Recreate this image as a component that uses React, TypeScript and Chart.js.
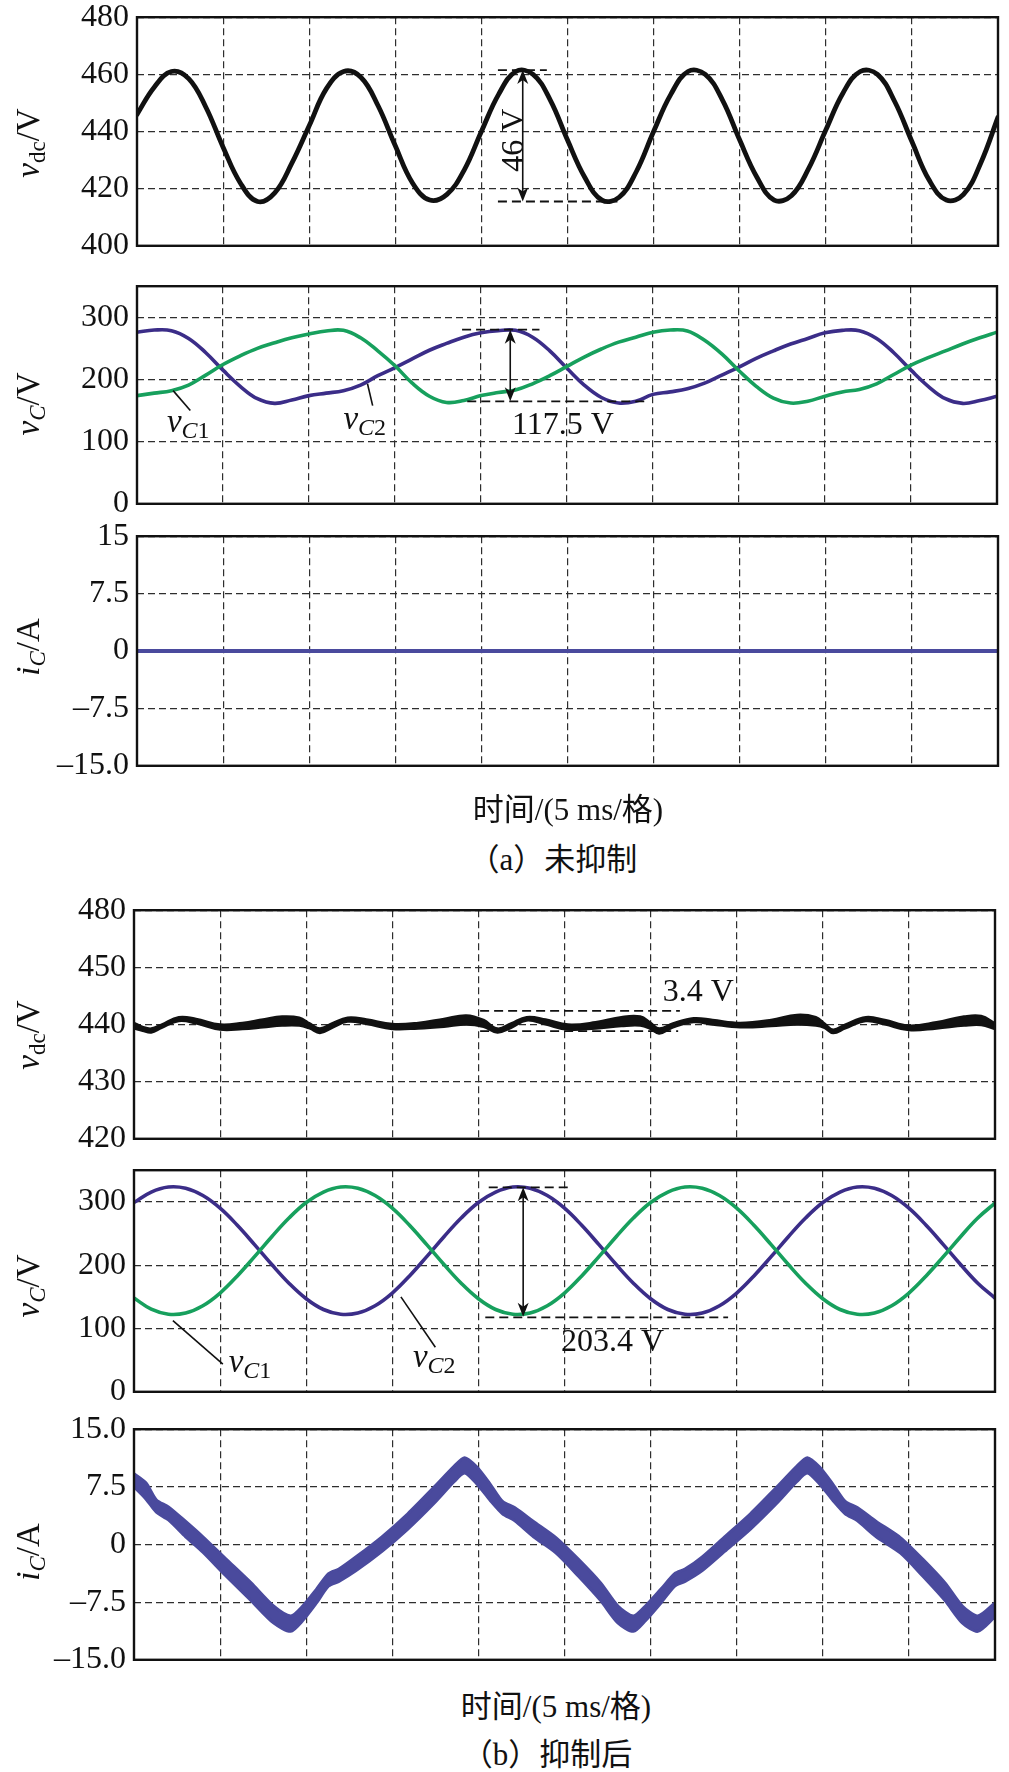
import React, { useEffect, useRef } from "react";
import { Chart, registerables } from "chart.js";

Chart.register(...registerables);

const W = 1009;
const H = 1772;
const PAD = 26;
const SERIF = '"Liberation Serif", "DejaVu Serif", "Times New Roman", Times, serif';
const CAPTION_FONT = '"Liberation Serif", "DejaVu Serif", "Noto Sans CJK SC", serif';

const PURPLE = "#3b2d88";
const GREEN = "#17a05d";
const BAND = "#4a4a9d";
const GRID = "#2e2e2e";

// ---------- time axis (ms), 10 divisions of 5 ms ----------
const xTicks = [0, 5, 10, 15, 20, 25, 30, 35, 40, 45, 50];
const timeMs = [0, 1, 2, 3, 4, 5, 6, 7, 8, 9, 10, 11, 12, 13, 14, 15, 16, 17, 18, 19, 20, 21, 22, 23, 24, 25, 26, 27, 28, 29, 30, 31, 32, 33, 34, 35, 36, 37, 38, 39, 40, 41, 42, 43, 44, 45, 46, 47, 48, 49, 50];

// ---------- (a) without suppression ----------
const vdcA = [446, 455.5, 461, 458.5, 448.5, 434.5, 422, 415.5, 418.5, 429, 442, 455, 461, 459, 449, 435, 422, 416, 418, 426.5, 440, 453, 461, 460, 451, 437, 424, 416, 417, 426, 440, 453, 461, 460, 451, 437, 424, 416, 417.5, 427, 440.5, 453.5, 461, 460, 450.5, 436.5, 423, 416, 418, 429, 445];
const vC1A = [174, 178, 182, 191, 207, 224, 238, 250, 259, 267, 273, 278, 279, 267, 246, 222, 194, 173, 163, 166, 174, 179, 183, 193, 206, 221, 236, 249, 260, 268, 276, 279.5, 278, 263, 241, 214, 189, 170, 162, 165, 173, 180, 184, 193, 208, 223, 235, 246, 257, 267, 276];
const vC2A = [276, 279.5, 278.5, 266, 243, 215, 189, 169, 161.5, 167, 174, 178, 182, 191, 206, 219, 233, 247, 258, 268, 275, 278.5, 279, 268, 246, 218, 191, 171, 162, 165, 176, 180, 185, 194, 207, 220, 234, 246, 257, 266, 275, 279, 278.5, 266, 243, 215, 189, 169, 161.5, 166, 173];
const iCA = [0, 0, 0, 0, 0, 0, 0, 0, 0, 0, 0, 0, 0, 0, 0, 0, 0, 0, 0, 0, 0, 0, 0, 0, 0, 0, 0, 0, 0, 0, 0, 0, 0, 0, 0, 0, 0, 0, 0, 0, 0, 0, 0, 0, 0, 0, 0, 0, 0, 0, 0];

// ---------- (b) with suppression ----------
const vdcBTime = [0, 0.5, 1.0, 1.6, 2.6, 3.6, 5.0, 6.3, 7.5, 8.6, 9.6, 10.2, 10.8, 11.5, 12.4, 13.5, 15.0, 16.5, 18.0, 19.3, 20.3, 21.1, 21.9, 22.8, 23.9, 25.2, 26.8, 28.3, 29.4, 30.0, 30.5, 31.3, 32.5, 33.6, 35.2, 37.0, 38.5, 39.6, 40.1, 40.6, 41.3, 42.5, 43.6, 45.0, 46.6, 48.2, 49.2, 50.0];
const vdcBUpper = [440.3, 439.6, 439.3, 440.0, 441.3, 441.0, 440.0, 440.3, 440.9, 441.4, 441.2, 440.2, 439.3, 440.2, 441.2, 440.9, 440.1, 440.3, 441.0, 441.6, 440.8, 439.3, 440.2, 441.3, 440.9, 440.0, 440.4, 441.3, 441.4, 440.3, 439.3, 440.2, 441.1, 440.8, 440.3, 440.8, 441.7, 441.3, 440.2, 439.1, 440.0, 441.3, 440.8, 439.8, 440.4, 441.4, 441.5, 440.2];
const vdcBLower = [439.3, 438.9, 438.6, 439.4, 440.6, 440.2, 439.1, 439.2, 439.5, 439.8, 439.8, 439.3, 438.5, 439.4, 440.5, 440.1, 439.2, 439.3, 439.6, 440.0, 439.6, 438.6, 439.4, 440.7, 440.0, 439.1, 439.3, 439.7, 439.8, 439.2, 438.4, 439.5, 440.4, 440.0, 439.5, 439.7, 440.0, 439.8, 439.4, 438.5, 439.3, 440.6, 440.0, 439.0, 439.3, 439.8, 439.9, 439.2];
const vC1B = [148, 130.5, 122.5, 124.5, 136, 156, 183, 213.5, 245, 274.5, 299, 315.5, 323.5, 321.5, 310, 290, 263, 232.5, 201, 171.5, 147, 130, 122.5, 124.5, 136, 156, 183, 213.5, 245, 274.5, 299, 315.5, 323.5, 321.5, 310, 290, 263, 232.5, 201, 171.5, 147, 130, 122.5, 124.5, 136, 156, 183, 213.5, 245, 274.5, 298];
const vC2B = [299, 315.5, 323.5, 321.5, 310, 290, 263, 232.5, 201, 171.5, 147, 130, 122.5, 124.5, 136, 156, 183, 213.5, 245, 274.5, 299, 315.5, 323.5, 321.5, 310, 290, 263, 232.5, 201, 171.5, 147, 130, 122.5, 124.5, 136, 156, 183, 213.5, 245, 274.5, 299, 315.5, 323.5, 321.5, 310, 290, 263, 232.5, 201, 171.5, 148];
const iCBTime = [0, 0.7, 1.3, 2.0, 3.0, 4.0, 5.3, 6.8, 8.1, 9.1, 9.8, 10.6, 11.3, 11.9, 12.9, 14.4, 15.9, 17.4, 18.6, 19.2, 19.9, 20.7, 21.4, 22.1, 23.2, 24.5, 25.8, 27.1, 28.1, 29.0, 29.7, 30.6, 31.4, 32.0, 33.0, 34.3, 35.8, 37.3, 38.5, 39.1, 39.8, 40.6, 41.3, 42.0, 43.1, 44.5, 45.8, 47.1, 48.1, 49.0, 50.0];
const iCBUpper = [9.2, 8.0, 5.8, 4.9, 3.0, 1.0, -1.8, -5.0, -8.0, -9.3, -8.0, -5.8, -3.8, -3.2, -1.6, 1.0, 4.0, 7.4, 10.2, 11.3, 10.1, 7.8, 5.6, 4.8, 3.0, 0.9, -1.9, -5.0, -8.0, -9.3, -8.0, -5.8, -3.8, -3.2, -1.6, 1.0, 4.0, 7.4, 10.2, 11.3, 10.1, 7.8, 5.6, 4.8, 3.0, 0.9, -1.9, -5.0, -8.0, -9.3, -7.6];
const iCBLower = [7.5, 5.9, 4.2, 3.2, 1.0, -1.0, -4.0, -7.3, -10.2, -11.3, -9.9, -7.6, -5.4, -4.8, -3.4, -0.9, 2.0, 5.3, 8.2, 9.3, 7.9, 5.7, 4.0, 3.1, 1.0, -1.1, -4.1, -7.3, -10.2, -11.3, -9.9, -7.6, -5.4, -4.8, -3.4, -0.9, 2.0, 5.3, 8.2, 9.3, 7.9, 5.7, 4.0, 3.1, 1.0, -1.1, -4.1, -7.3, -10.2, -11.3, -9.4];

// ---------- y ticks ----------
const vdcATicks = [400, 420, 440, 460, 480];
const vdcALabels = ["400", "420", "440", "460", "480"];
const vCTicks = [0, 100, 200, 300];
const vCLabels = ["0", "100", "200", "300"];
const iCTicks = [-15, -7.5, 0, 7.5, 15];
const iCALabels = ["\u201315.0", "\u20137.5", "0", "7.5", "15"];
const vdcBTicks = [420, 430, 440, 450, 460];
const vdcBLabels = ["420", "430", "440", "450", "480"];
const iCBLabels = ["\u201315.0", "\u20137.5", "0", "7.5", "15.0"];

const pts = (xs: number[], ys: number[]) => xs.map((x, i) => ({ x, y: ys[i] }));

type Part = { t: string; it?: boolean; s: number; dy?: number };

function drawRich(ctx: CanvasRenderingContext2D, x: number, y: number, parts: Part[], align: "left" | "center" = "left") {
  const widths = parts.map((p) => {
    ctx.font = `${p.it ? "italic " : ""}${p.s}px ${SERIF}`;
    return ctx.measureText(p.t).width;
  });
  const total = widths.reduce((a, b) => a + b, 0);
  let cx = align === "center" ? x - total / 2 : x;
  ctx.textAlign = "left";
  ctx.textBaseline = "alphabetic";
  ctx.fillStyle = "#111";
  parts.forEach((p, i) => {
    ctx.font = `${p.it ? "italic " : ""}${p.s}px ${SERIF}`;
    ctx.fillText(p.t, cx, y + (p.dy || 0));
    cx += widths[i];
  });
}

function dashH(ctx: CanvasRenderingContext2D, x1: number, x2: number, y: number) {
  ctx.save();
  ctx.strokeStyle = "#111";
  ctx.lineWidth = 1.8;
  ctx.setLineDash([9, 5]);
  ctx.beginPath();
  ctx.moveTo(x1, y);
  ctx.lineTo(x2, y);
  ctx.stroke();
  ctx.restore();
}

function arrowV(ctx: CanvasRenderingContext2D, x: number, yTop: number, yBot: number) {
  ctx.save();
  ctx.strokeStyle = "#111";
  ctx.fillStyle = "#111";
  ctx.lineWidth = 1.6;
  ctx.setLineDash([]);
  ctx.beginPath();
  ctx.moveTo(x, yTop + 8);
  ctx.lineTo(x, yBot - 8);
  ctx.stroke();
  const head = (tipY: number, dir: number) => {
    ctx.beginPath();
    ctx.moveTo(x, tipY);
    ctx.lineTo(x - 5.5, tipY + dir * 14);
    ctx.lineTo(x, tipY + dir * 10);
    ctx.lineTo(x + 5.5, tipY + dir * 14);
    ctx.closePath();
    ctx.fill();
  };
  head(yTop, 1);
  head(yBot, -1);
  ctx.restore();
}

function leader(ctx: CanvasRenderingContext2D, x1: number, y1: number, x2: number, y2: number) {
  ctx.save();
  ctx.strokeStyle = "#111";
  ctx.lineWidth = 1.6;
  ctx.setLineDash([]);
  ctx.beginPath();
  ctx.moveTo(x1, y1);
  ctx.lineTo(x2, y2);
  ctx.stroke();
  ctx.restore();
}

type Helpers = { ctx: CanvasRenderingContext2D; X: (t: number) => number; Y: (v: number) => number };

type Panel = {
  top: number;
  bottom: number;
  left: number;
  right: number;
  yMin: number;
  yMax: number;
  yTicks: number[];
  yLabels: string[];
  datasets: any[];
  title: Part[];
  titleY: number;
  annot?: (h: Helpers) => void;
};

const line = (data: any[], color: string, width: number) => ({
  data,
  borderColor: color,
  backgroundColor: color,
  borderWidth: width,
  pointRadius: 0,
  tension: 0.4,
  fill: false,
  borderJoinStyle: "round",
  borderCapStyle: "round",
});

const band = (upper: any[], lower: any[], color: string, tension: number, edge: number) => [
  { data: upper, borderColor: color, backgroundColor: color, borderWidth: edge, pointRadius: 0, tension, fill: false, borderJoinStyle: "round" },
  { data: lower, borderColor: color, backgroundColor: color, borderWidth: edge, pointRadius: 0, tension, fill: "-1", borderJoinStyle: "round" },
];

const vTitle = (sub: string, subItalic: boolean, unit: string): Part[] => [
  { t: "v", it: true, s: 33 },
  { t: sub, it: subItalic, s: 23, dy: 6 },
  { t: "/" + unit, s: 33 },
];
const iTitle: Part[] = [{ t: "i", it: true, s: 33 }, { t: "C", it: true, s: 23, dy: 6 }, { t: "/A", s: 33 }];

const vcLabel = (n: string): Part[] => [{ t: "v", it: true, s: 33 }, { t: "C", it: true, s: 24, dy: 6 }, { t: n, s: 24, dy: 6 }];

const PANELS: Panel[] = [
  {
    top: 16, bottom: 247, left: 137, right: 998,
    yMin: 400, yMax: 480, yTicks: vdcATicks, yLabels: vdcALabels,
    datasets: [line(pts(timeMs, vdcA), "#111", 4.8)],
    title: vTitle("dc", false, "V"), titleY: 143,
    annot: ({ ctx, X, Y }) => {
      dashH(ctx, X(20.96), X(23.8), Y(461.5));
      dashH(ctx, X(20.96), X(27.9), Y(415.5));
      arrowV(ctx, X(22.4), Y(461.5), Y(415.5));
      ctx.save();
      ctx.translate(X(21.75), Y(437));
      ctx.rotate(-Math.PI / 2);
      drawRich(ctx, 0, 11, [{ t: "46 V", s: 32 }], "center");
      ctx.restore();
    },
  },
  {
    top: 285, bottom: 505, left: 137, right: 997,
    yMin: 0, yMax: 350, yTicks: vCTicks, yLabels: vCLabels,
    datasets: [line(pts(timeMs, vC1A), GREEN, 3.6), line(pts(timeMs, vC2A), PURPLE, 3.6)],
    title: vTitle("C", true, "V"), titleY: 404,
    annot: ({ ctx, X, Y }) => {
      dashH(ctx, X(18.9), X(23.4), Y(280));
      dashH(ctx, X(19.2), X(29.5), Y(164.8));
      arrowV(ctx, X(21.7), Y(280), Y(165));
      drawRich(ctx, X(21.8), Y(113), [{ t: "117.5 V", s: 32 }]);
      leader(ctx, X(2.1), Y(182), X(3.1), Y(150));
      drawRich(ctx, X(1.74), Y(116), vcLabel("1"));
      leader(ctx, X(13.4), Y(193), X(13.7), Y(158));
      drawRich(ctx, X(12.0), Y(121), vcLabel("2"));
    },
  },
  {
    top: 535, bottom: 767, left: 137, right: 998,
    yMin: -15, yMax: 15, yTicks: iCTicks, yLabels: iCALabels,
    datasets: [line(pts(timeMs, iCA), BAND, 4.2)],
    title: iTitle, titleY: 647,
  },
  {
    top: 909, bottom: 1140, left: 134, right: 995,
    yMin: 420, yMax: 460, yTicks: vdcBTicks, yLabels: vdcBLabels,
    datasets: band(pts(vdcBTime, vdcBUpper), pts(vdcBTime, vdcBLower), "#111", 0.4, 2.3),
    title: vTitle("dc", false, "V"), titleY: 1035,
    annot: ({ ctx, X, Y }) => {
      dashH(ctx, X(20.1), X(31.7), Y(442.4));
      dashH(ctx, X(20.1), X(31.6), Y(438.85));
      drawRich(ctx, X(30.7), Y(444.1), [{ t: "3.4 V", s: 32 }]);
    },
  },
  {
    top: 1169, bottom: 1393, left: 134, right: 995,
    yMin: 0, yMax: 350, yTicks: vCTicks, yLabels: vCLabels,
    datasets: [line(pts(timeMs, vC1B), GREEN, 3.6), line(pts(timeMs, vC2B), PURPLE, 3.6)],
    title: vTitle("C", true, "V"), titleY: 1286,
    annot: ({ ctx, X, Y }) => {
      dashH(ctx, X(20.6), X(25.2), Y(323));
      dashH(ctx, X(20.4), X(34.5), Y(117.4));
      arrowV(ctx, X(22.6), Y(323), Y(118.5));
      drawRich(ctx, X(24.8), Y(64.5), [{ t: "203.4 V", s: 32 }]);
      leader(ctx, X(2.26), Y(112.5), X(5.16), Y(43.7));
      drawRich(ctx, X(5.5), Y(31), vcLabel("1"));
      leader(ctx, X(15.5), Y(150), X(17.5), Y(70.3));
      drawRich(ctx, X(16.2), Y(39), vcLabel("2"));
    },
  },
  {
    top: 1428, bottom: 1661, left: 134, right: 995,
    yMin: -15, yMax: 15, yTicks: iCTicks, yLabels: iCBLabels,
    datasets: band(pts(iCBTime, iCBUpper), pts(iCBTime, iCBLower), BAND, 0.25, 3),
    title: iTitle, titleY: 1552,
  },
];

function ChartPanel({ panel }: { panel: Panel }) {
  const ref = useRef<HTMLCanvasElement>(null);
  const canvasTop = panel.top - PAD;
  const h = panel.bottom - panel.top + 2 * PAD;

  useEffect(() => {
    const canvas = ref.current;
    if (!canvas) return;
    const overlay = {
      id: "overlay",
      afterDatasetsDraw(chart: any) {
        const ctx = chart.ctx as CanvasRenderingContext2D;
        const xs = chart.scales.x;
        const ys = chart.scales.y;
        if (panel.annot) {
          ctx.save();
          panel.annot({ ctx, X: (t) => xs.getPixelForValue(t), Y: (v) => ys.getPixelForValue(v) });
          ctx.restore();
        }
      },
      afterDraw(chart: any) {
        const ctx = chart.ctx as CanvasRenderingContext2D;
        const a = chart.chartArea;
        ctx.save();
        ctx.strokeStyle = "#111";
        ctx.lineWidth = 2.4;
        ctx.setLineDash([]);
        ctx.strokeRect(a.left, a.top, a.right - a.left, a.bottom - a.top);
        ctx.translate(29, panel.titleY - canvasTop);
        ctx.rotate(-Math.PI / 2);
        drawRich(ctx, 0, 10, panel.title, "center");
        ctx.restore();
      },
    };
    const chart = new Chart(canvas, {
      type: "line",
      data: { datasets: panel.datasets },
      options: {
        responsive: false,
        animation: false,
        devicePixelRatio: 1,
        events: [],
        layout: { padding: { top: PAD, bottom: PAD, left: 0, right: W - panel.right } },
        plugins: { legend: { display: false }, tooltip: { enabled: false }, title: { display: false } },
        scales: {
          x: {
            type: "linear",
            min: 0,
            max: 50,
            afterBuildTicks: (s: any) => {
              s.ticks = xTicks.map((v) => ({ value: v }));
            },
            afterFit: (s: any) => {
              s.height = 0;
            },
            ticks: { display: false },
            grid: { color: GRID, lineWidth: 1.2, drawTicks: false },
            border: { display: false, dash: [7, 4] },
          },
          y: {
            type: "linear",
            min: panel.yMin,
            max: panel.yMax,
            afterBuildTicks: (s: any) => {
              s.ticks = panel.yTicks.map((v) => ({ value: v }));
            },
            afterFit: (s: any) => {
              s.width = panel.left;
            },
            ticks: {
              callback: (_v: any, i: number) => panel.yLabels[i],
              color: "#111",
              font: { family: SERIF, size: 32 },
              padding: 8,
              autoSkip: false,
            },
            grid: { color: GRID, lineWidth: 1.2, drawTicks: false },
            border: { display: false, dash: [7, 4] },
          },
        },
      } as any,
      plugins: [overlay],
    });
    return () => chart.destroy();
  }, []);

  return (
    <canvas
      ref={ref}
      width={W}
      height={h}
      style={{ position: "absolute", left: 0, top: canvasTop, width: W, height: h }}
    />
  );
}

function Caption({ text, cx, cy }: { text: string; cx: number; cy: number }) {
  return (
    <div
      style={{
        position: "absolute",
        left: cx - 300,
        top: cy - 17,
        width: 600,
        textAlign: "center",
        fontFamily: CAPTION_FONT,
        fontSize: 31,
        lineHeight: "34px",
        color: "#111",
        whiteSpace: "nowrap",
      }}
    >
      {text}
    </div>
  );
}

export default function App() {
  return (
    <div style={{ position: "absolute", left: 0, top: 0, width: W, height: H, background: "#fff", overflow: "hidden" }}>
      {PANELS.map((p, i) => (
        <ChartPanel key={i} panel={p} />
      ))}
      <Caption text="时间/(5 ms/格)" cx={568} cy={810} />
      <Caption text="（a）未抑制" cx={553} cy={860} />
      <Caption text="时间/(5 ms/格)" cx={556} cy={1707} />
      <Caption text="（b）抑制后" cx={547} cy={1755} />
    </div>
  );
}
